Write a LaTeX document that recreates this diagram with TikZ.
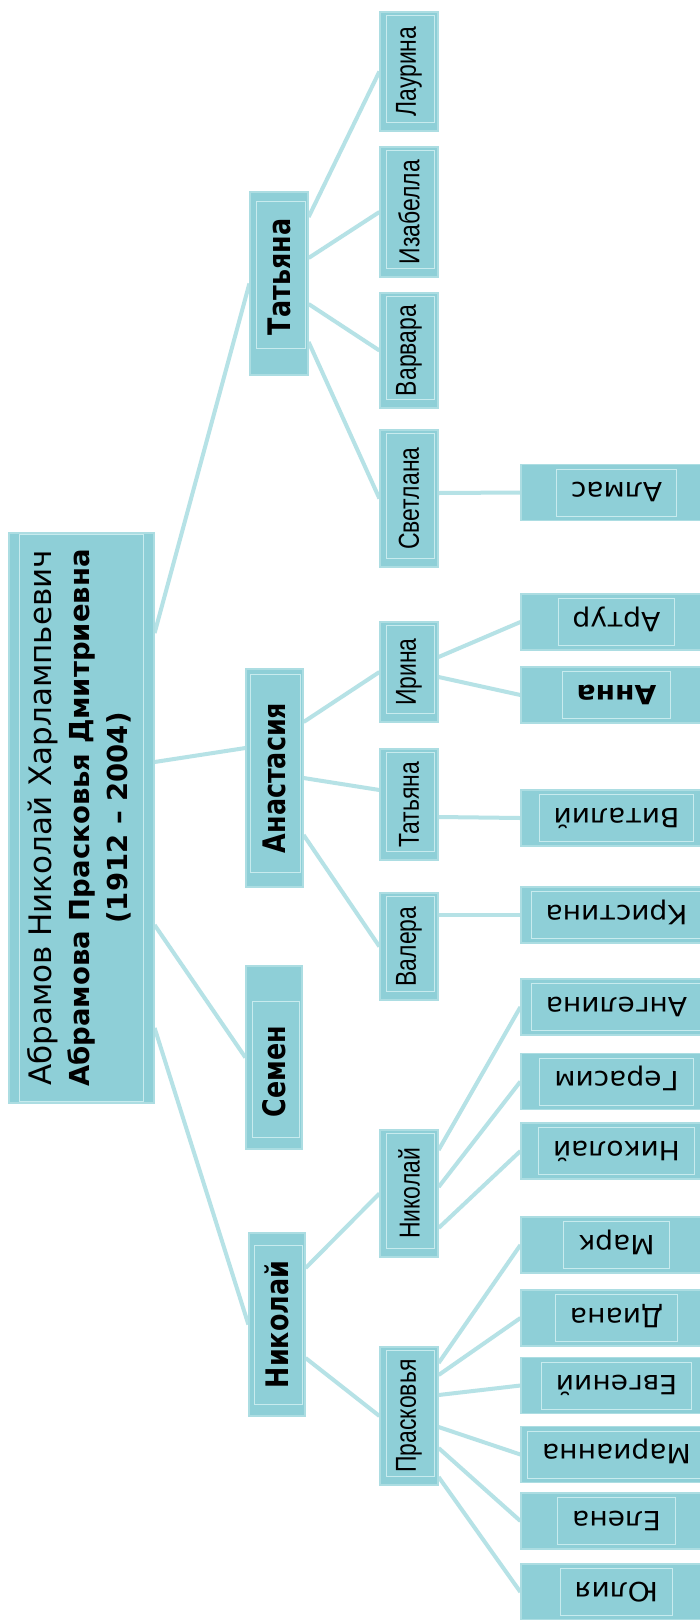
\documentclass[tikz,border=0pt]{standalone}
\usepackage{fontspec}
\setmainfont{DejaVu Sans}
\newfontfamily\arialf{Liberation Sans}
\usetikzlibrary{calc}
\definecolor{boxc}{HTML}{8ECFD7}
\definecolor{linec}{HTML}{B6E2E6}
\definecolor{framec}{HTML}{C8EBEE}
\definecolor{edgec}{HTML}{ACDDE2}
\pgfdeclarelayer{bg}
\pgfsetlayers{bg,main}
\newcommand\lone[1]{\rotatebox{90}{\scalebox{0.94}[1.15]{#1}}}
\newcommand\ltwo[1]{\rotatebox{90}{\scalebox{0.82}[1.03]{#1}}}
\newcommand\lthree[1]{{\setlength\fboxsep{0pt}\setlength\fboxrule{1pt}\fcolorbox{framec}{boxc}{\hspace*{14pt}\rule[-23pt]{0pt}{46pt}\raisebox{0.365em}{\rotatebox{180}{\scalebox{1.06}[1]{#1}}}\hspace*{14pt}}}}
\tikzset{
  box/.style={rectangle, fill=boxc, draw=edgec, line width=1.2pt, inner sep=0pt, text=black},
  lvone/.style={box, minimum height=183, font=\fontsize{27}{32}\selectfont\bfseries},
  lvtwo/.style={box, minimum width=58, font=\fontsize{28}{32}\selectfont\arialf},
  lvthree/.style={box, minimum width=191, minimum height=56, font=\fontsize{26.5}{32}\selectfont},
  conn/.style={draw=linec, line width=4pt},
  inframe/.style={draw=framec, line width=1pt}
}
\begin{document}
\begin{tikzpicture}[x=1pt,y=-1pt]
\useasboundingbox (0,0) rectangle (700,1620);

% root
\node[box, minimum width=145, minimum height=570, font=\fontsize{31}{38}\selectfont] (root) at (81.5,818)
 {\rotatebox{90}{\begin{tabular}{@{}c@{}}
 Абрамов Николай Харлампьевич\\
 {\fontsize{27.5}{38}\selectfont\bfseries Абрамова Прасковья Дмитриевна}\\
 {\fontsize{27.5}{38}\selectfont\bfseries (1912 – 2004)}
 \end{tabular}}};

% level 1
\node[lvone, minimum width=58] (tat) at (279,283.5) {\lone{\hspace*{14pt}Татьяна}};
\node[lvone, minimum width=57, minimum height=218] (ana) at (274.5,778) {\lone{Анастасия}};
\node[lvone, minimum width=56] (sem) at (274,1057.5) {\lone{Семен\hspace*{30pt}}};
\node[lvone, minimum width=56] (nik) at (277,1324.5) {\lone{Николай}};

% level 2
\node[lvtwo, minimum height=119] (lau) at (409,71.5) {\ltwo{Лаурина}};
\node[lvtwo, minimum height=130] (iza) at (409,212) {\ltwo{Изабелла}};
\node[lvtwo, minimum height=115] (var) at (409,350.5) {\ltwo{Варвара}};
\node[lvtwo, minimum height=137] (svet) at (409,498.5) {\ltwo{Светлана}};
\node[lvtwo, minimum height=100] (iri) at (409,672) {\ltwo{Ирина}};
\node[lvtwo, minimum height=111] (tat2) at (409,804.5) {\ltwo{Татьяна}};
\node[lvtwo, minimum height=107] (val) at (409,946.5) {\ltwo{Валера}};
\node[lvtwo, minimum height=127] (nik2) at (409,1193.5) {\ltwo{Николай}};
\node[lvtwo, minimum height=138] (pra) at (409,1416) {\ltwo{Прасковья}};

% level 3
\node[lvthree] (alm) at (616.5,492.5) {\lthree{Алмас}};
\node[lvthree] (art) at (616.5,622) {\lthree{Артур}};
\node[lvthree] (ann) at (616.5,695) {\lthree{\bfseries Анна}};
\node[lvthree] (vit) at (616.5,818) {\lthree{Виталий}};
\node[lvthree] (kri) at (616.5,915) {\lthree{Кристина}};
\node[lvthree] (ang) at (616.5,1007) {\lthree{Ангелина}};
\node[lvthree] (ger) at (616.5,1081.5) {\lthree{Герасим}};
\node[lvthree] (nik3) at (616.5,1151) {\lthree{Николай}};
\node[lvthree] (mar) at (616.5,1245) {\lthree{Марк}};
\node[lvthree] (dia) at (616.5,1318) {\lthree{Диана}};
\node[lvthree] (evg) at (616.5,1385.5) {\lthree{Евгений}};
\node[lvthree] (mari) at (616.5,1454.5) {\lthree{Марианна}};
\node[lvthree] (ele) at (616.5,1521) {\lthree{Елена}};
\node[lvthree] (yul) at (616.5,1592) {\lthree{Юлия}};

% inner frames
\foreach \n/\a/\b/\c/\d in {root/11/2/11/2, tat/7/10/3/27, ana/5/6/3/15, sem/7/36/3/12, nik/6/13/3/12,
  lau/7/4/4/9, iza/7/4/4/9, var/7/4/4/9, svet/7/4/4/9, iri/7/4/4/9, tat2/7/4/4/9, val/7/4/4/9, nik2/7/4/4/9, pra/7/4/4/9}
  \draw[inframe] ($(\n.north west)+(\a,\b)$) rectangle ($(\n.south east)+(-\c,-\d)$);

% connectors
\begin{pgfonlayer}{bg}
\fill[white] (0,0) rectangle (700,1620);
\draw[conn] ([yshift=185]root.east) -- (tat.west);
\draw[conn] ([yshift=56]root.east) -- ([yshift=30]ana.west);
\draw[conn] ([yshift=-107]root.east) -- (sem.west);
\draw[conn] ([yshift=-210]root.east) -- (nik.west);

\draw[conn] ([yshift=66.5]tat.east) -- (lau.west);
\draw[conn] ([yshift=25.5]tat.east) -- (iza.west);
\draw[conn] ([yshift=-20.5]tat.east) -- (var.west);
\draw[conn] ([yshift=-58.5]tat.east) -- (svet.west);

\draw[conn] ([yshift=56]ana.east) -- (iri.west);
\draw[conn] (ana.east) -- ([yshift=14.5]tat2.west);
\draw[conn] ([yshift=-57]ana.east) -- (val.west);

\draw[conn] ([yshift=56.5]nik.east) -- (nik2.west);
\draw[conn] ([yshift=-33.5]nik.east) -- (pra.west);

\draw[conn] ([yshift=5.5]svet.east) -- (alm.west);
\draw[conn] ([yshift=15]iri.east) -- (art.west);
\draw[conn] ([yshift=-5]iri.east) -- (ann.west);
\draw[conn] ([yshift=-12.5]tat2.east) -- (vit.west);
\draw[conn] ([yshift=31.5]val.east) -- (kri.west);

\draw[conn] ([yshift=43.5]nik2.east) -- (ang.west);
\draw[conn] ([yshift=6.5]nik2.east) -- (ger.west);
\draw[conn] ([yshift=-34.5]nik2.east) -- (nik3.west);

\draw[conn] ([yshift=53]pra.east) -- (mar.west);
\draw[conn] ([yshift=41]pra.east) -- (dia.west);
\draw[conn] ([yshift=21]pra.east) -- (evg.west);
\draw[conn] ([yshift=-11]pra.east) -- (mari.west);
\draw[conn] ([yshift=-32]pra.east) -- (ele.west);
\draw[conn] ([yshift=-61]pra.east) -- (yul.west);
\end{pgfonlayer}
\end{tikzpicture}
\end{document}
